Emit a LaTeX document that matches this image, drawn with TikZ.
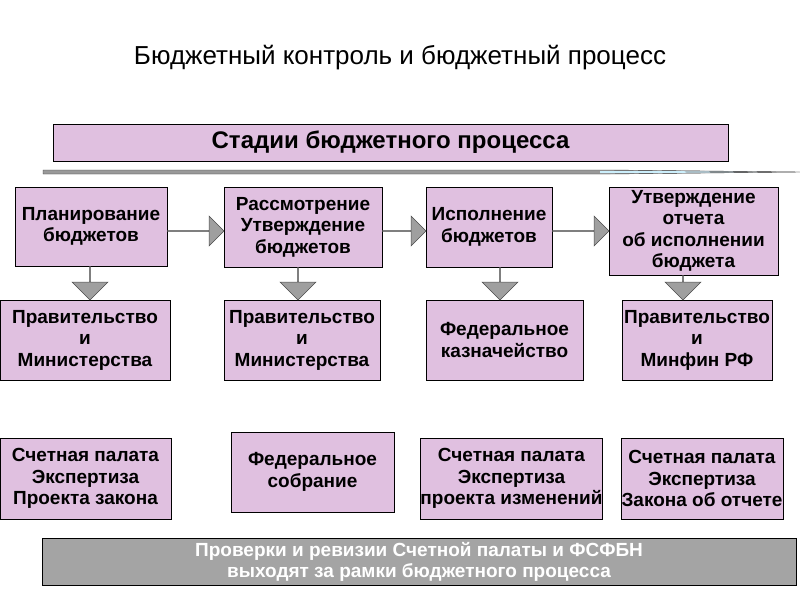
\documentclass[tikz,border=0pt]{standalone}
\usepackage{fontspec}
\setmainfont{Liberation Sans}
\usetikzlibrary{shapes.arrows,calc}
\definecolor{pk}{RGB}{224,192,224}
\definecolor{gb}{RGB}{164,164,164}
\begin{document}
\begin{tikzpicture}[x=1pt,y=-1pt,
box/.style={draw=black,fill=pk,inner sep=0pt,align=center,font=\fontsize{19}{21.5}\selectfont\bfseries},
rarr/.style={draw=black!70,fill=gray!75,line width=0.5pt},
]
\useasboundingbox (0,0) rectangle (800,600);
\node[font=\fontsize{26}{30}\selectfont] (title) at (400,58) {Бюджетный контроль и бюджетный процесс};
\node[box,minimum width=675,minimum height=37,font=\fontsize{24}{28}\selectfont\bfseries] (st) at (390.5,142.5) {Стадии бюджетного процесса};
\coordinate (l1) at (43,172);
\coordinate (l2) at (800,172);
\fill[gray!80] (43,170) -- (610,170) -- (800,172) -- (610,174) -- (43,174) -- cycle;
\fill[cyan!20] (600,171) -- (660,171) -- (760,172) -- (660,173) -- (600,173) -- cycle;
\draw[gray!40!black,line width=0.4pt] (43,170) -- (610,170) -- (l2) -- (610,174) -- (43,174) -- cycle;
% row 1
\node[box,minimum width=152,minimum height=79] (a1) at (91,226.5) {Планирование\\бюджетов};
\node[box,minimum width=158,minimum height=80] (b1) at (303,227) {Рассмотрение\\Утверждение\\бюджетов};
\node[box,minimum width=126,minimum height=80] (c1) at (489,227) {Исполнение\\бюджетов};
\node[box,minimum width=169,minimum height=88] (d1) at (693.5,231) {Утверждение\\отчета\\об исполнении\\бюджета};
% row 2
\node[box,minimum width=170,minimum height=80] (a2) at (85,340) {Правительство\\и\\Министерства};
\node[box,minimum width=156,minimum height=80] (b2) at (302,340) {Правительство\\и\\Министерства};
\node[box,minimum width=157,minimum height=80] (c2) at (504.5,340) {Федеральное\\казначейство};
\node[box,minimum width=150,minimum height=80] (d2) at (697,340) {Правительство\\и\\Минфин РФ};
% row 3
\node[box,minimum width=171,minimum height=81] (a3) at (85.5,478.5) {Счетная палата\\Экспертиза\\Проекта закона};
\node[box,minimum width=163,minimum height=80] (b3) at (312.5,472) {Федеральное\\собрание};
\node[box,minimum width=171,minimum height=81] (c3) at (511.5,478.5) {Счетная палата\\Экспертиза\\проекта изменений};
\node[box,minimum width=162,minimum height=81] (d3) at (702,478.5) {Счетная палата\\Экспертиза\\Закона об отчете};
% bottom
\node[draw=black,fill=gb,minimum width=754,minimum height=47,inner sep=0pt,align=center,text=white,font=\fontsize{19}{21}\selectfont\bfseries] (bot) at (419,561.5) {Проверки и ревизии Счетной палаты и ФСФБН\\выходят за рамки бюджетного процесса};
% horizontal arrows
\foreach \s/\t in {a1/b1,b1/c1,c1/d1}{
  \path (\s.east |- 0,231) coordinate (p) (\t.west |- 0,231) coordinate (q);
  \path let \p1=(p), \p2=(q) in node[single arrow,rarr,minimum height={\x2-\x1},minimum width=30,single arrow head extend=8,single arrow head indent=0pt,inner sep=0pt,anchor=tail] at (p) {};
}
% down arrows
\foreach \s/\t/\x in {a1/a2/90,b1/b2/298,c1/c2/500,d1/d2/683}{
  \path (\x,0 |- \s.south) coordinate (p) (\x,0 |- \t.north) coordinate (q);
  \path let \p1=(p), \p2=(q) in node[single arrow,rarr,shape border rotate=270,minimum height={\y1-\y2},minimum width=36,single arrow head extend=9,inner sep=0pt,anchor=tail] at (p) {};
}
\end{tikzpicture}
\end{document}
